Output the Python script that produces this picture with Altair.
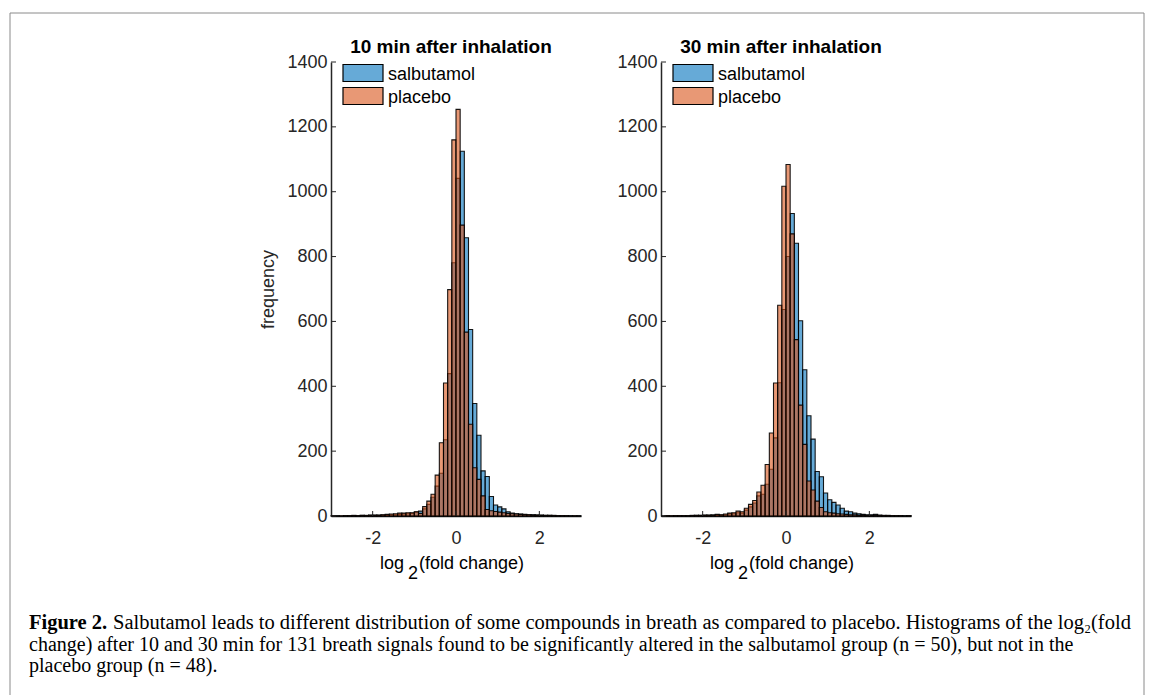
import altair as alt
import pandas as pd

# ---------------- data ----------------
bin_edges = [round(-3.0 + 0.1 * i, 1) for i in range(61)]
groups = ["salbutamol", "placebo"]
titles = ["10 min after inhalation", "30 min after inhalation"]

salb_10 = [0, 1, 0, 1, 1, 1, 1, 2, 1, 2,
           2, 2, 3, 3, 4, 4, 5, 6, 7, 8,
           12, 15, 22, 36, 58, 92, 132, 235, 439, 781,
           1041, 1125, 858, 575, 347, 249, 139, 122, 60, 34,
           28, 22, 13, 9, 7, 6, 5, 4, 4, 3,
           3, 2, 2, 2, 1, 1, 1, 1, 0, 1]
plac_10 = [1, 0, 1, 1, 1, 2, 1, 2, 2, 3,
           3, 3, 4, 5, 6, 7, 9, 9, 10, 10,
           13, 8, 29, 46, 67, 126, 226, 410, 698, 1160,
           1254, 897, 567, 283, 149, 113, 62, 20, 16, 14,
           12, 10, 8, 7, 6, 5, 4, 4, 3, 3,
           2, 2, 2, 1, 1, 1, 1, 0, 1, 0]
salb_30 = [0, 1, 1, 1, 1, 1, 1, 1, 2, 2,
           2, 2, 3, 3, 3, 4, 6, 7, 10, 9,
           18, 28, 40, 62, 67, 98, 144, 241, 411, 637,
           800, 933, 841, 602, 451, 309, 237, 137, 121, 71,
           50, 42, 34, 24, 15, 13, 9, 7, 5, 4,
           4, 5, 3, 2, 2, 1, 1, 1, 1, 1]
plac_30 = [0, 1, 1, 1, 1, 1, 1, 2, 2, 2,
           3, 3, 3, 5, 4, 6, 9, 10, 15, 13,
           24, 36, 48, 74, 95, 159, 256, 410, 650, 1017,
           1084, 870, 544, 342, 221, 108, 80, 46, 26, 13,
           10, 9, 7, 6, 5, 4, 4, 3, 3, 2,
           2, 2, 1, 1, 1, 1, 1, 1, 0, 1]

y_ticks = [0, 200, 400, 600, 800, 1000, 1200, 1400]
x_ticks = [-2, 0, 2]
y_title = "frequency"
x_title_parts = ["log", "2", "(fold change)"]

caption_bold = "Figure 2."
caption_lines = [
    "Salbutamol leads to different distribution of some compounds in breath as compared to placebo. Histograms of the log\u2082(fold",
    "change) after 10 and 30 min for 131 breath signals found to be significantly altered in the salbutamol group (n = 50), but not in the",
    "placebo group (n = 48).",
]

# ---------------- style ----------------
W, H = 250, 454
BLUE = "#0072BD"
ORANGE = "#D95319"
INK = "#262626"
SANS = "Liberation Sans"
SERIF = "Liberation Serif"
CAP = 20


def hist_df(salb, plac):
    rows = []
    for g, counts in zip(groups, [salb, plac]):
        for i, c in enumerate(counts):
            rows.append({"group": g, "start": bin_edges[i], "end": bin_edges[i + 1], "count": c})
    return pd.DataFrame(rows)


def one_text(text, x, y, size=18, weight="normal", align="left", font=SANS, baseline="alphabetic"):
    return alt.Chart(pd.DataFrame({"t": [text]})).mark_text(
        font=font, fontSize=size, fontWeight=weight, align=align,
        baseline=baseline, color="black"
    ).encode(text="t:N", x=alt.value(x), y=alt.value(y))


def legend_entry(i, colour):
    name = pd.DataFrame({"group": [groups[i]]})
    top = 2.5 + 23 * i
    sw = alt.Chart(name).mark_rect(
        fill=colour, fillOpacity=0.6, stroke="black", strokeWidth=1.2
    ).encode(x=alt.value(12), x2=alt.value(52), y=alt.value(top), y2=alt.value(top + 17))
    lab = alt.Chart(name).mark_text(
        font=SANS, fontSize=18, align="left", baseline="alphabetic", color="black"
    ).encode(text="group:N", x=alt.value(57), y=alt.value(top + 15.5))
    return [sw, lab]


def panel(title, salb, plac, first):
    df = hist_df(salb, plac)
    color = alt.Color("group:N", scale=alt.Scale(domain=groups, range=[BLUE, ORANGE]), legend=None)
    xs = alt.X(
        "start:Q",
        scale=alt.Scale(domain=[-3, 3], nice=False, zero=False),
        axis=alt.Axis(values=x_ticks, labelExpr="'' + datum.value", ticks=False,
                      grid=False, title=None, labelPadding=13),
    )
    ys = alt.Y(
        "count:Q",
        scale=alt.Scale(domain=[0, 1400], nice=False),
        axis=alt.Axis(values=y_ticks, format="d", ticks=False, grid=False,
                      title=y_title if first else None, titlePadding=9,
                      labelPadding=4),
    )
    base = alt.Chart(df)
    bar_kw = dict(fillOpacity=0.6, stroke="black", strokeWidth=1.1, strokeOpacity=0.9)
    salb_bars = base.transform_filter(alt.datum.group == groups[0]).mark_bar(**bar_kw).encode(
        x=xs, x2="end:Q", y=ys, y2=alt.datum(0), color=color)
    plac_bars = base.transform_filter(alt.datum.group == groups[1]).mark_bar(**bar_kw).encode(
        x=xs, x2="end:Q", y=ys, y2=alt.datum(0), color=color)

    yt = alt.Chart(pd.DataFrame({"count": y_ticks})).mark_rule(color=INK, strokeWidth=1).encode(
        y="count:Q", x=alt.value(0), x2=alt.value(5))
    xt = alt.Chart(pd.DataFrame({"start": x_ticks})).mark_rule(color=INK, strokeWidth=1).encode(
        x="start:Q", y=alt.value(H), y2=alt.value(H - 5))

    layers = [salb_bars, plac_bars, yt, xt]
    layers += legend_entry(0, BLUE) + legend_entry(1, ORANGE)
    layers += [one_text(title, 120, -9, size=19, weight="bold", align="center"),
               one_text(x_title_parts[0], 73, 507, align="right"),
               one_text(x_title_parts[1], 77, 517),
               one_text(x_title_parts[2], 88, 507)]

    if first:
        frame = pd.DataFrame({"side": ["frame"]})
        rule_kw = dict(color="#8a8a8a", strokeWidth=1)
        layers += [
            alt.Chart(frame).mark_rule(**rule_kw).encode(
                x=alt.value(-321), y=alt.value(-49), y2=alt.value(633)),
            alt.Chart(frame).mark_rule(**rule_kw).encode(
                x=alt.value(-321), x2=alt.value(813), y=alt.value(-49)),
            alt.Chart(frame).mark_rule(**rule_kw).encode(
                x=alt.value(813), y=alt.value(-49), y2=alt.value(633)),
            one_text(caption_bold, -302, 567, size=20.5, weight="bold", font=SERIF),
            one_text(caption_lines[0], -218, 567, size=20.5, font=SERIF),
            one_text(caption_lines[1], -302, 588.5, size=CAP, font=SERIF),
            one_text(caption_lines[2], -302, 610, size=CAP, font=SERIF),
        ]
    return alt.layer(*layers).properties(width=W, height=H)


chart = alt.hconcat(
    panel(titles[0], salb_10, plac_10, True),
    panel(titles[1], salb_30, plac_30, False),
    spacing=80,
).properties(
    bounds="flush",
    padding={"left": 9, "top": 12, "right": 0, "bottom": 0},
    background="white",
).configure_view(stroke=None).configure_axis(
    domainColor=INK, domainWidth=1.5, labelColor=INK, labelFont=SANS,
    labelFontSize=18, titleFont=SANS, titleFontSize=18, titleColor=INK,
    titleFontWeight="normal",
)

chart.save("out.html", embed_options={"renderer": "svg", "actions": False})
